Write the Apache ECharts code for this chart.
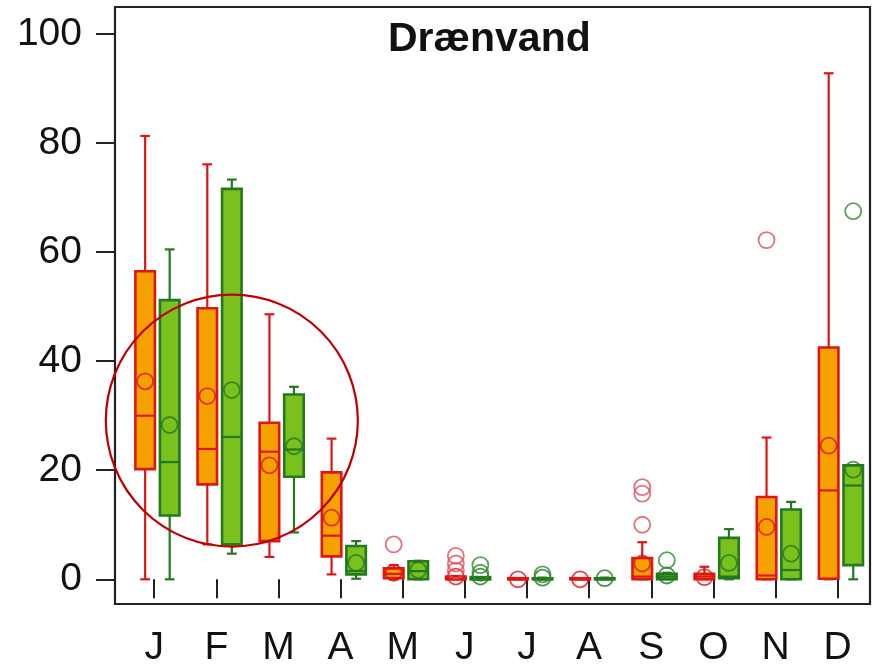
<!DOCTYPE html>
<html lang="da">
<head>
    <meta charset="utf-8" />
    <title>Drænvand</title>
    <script src="https://cdn.jsdelivr.net/npm/echarts@6/dist/echarts.min.js"></script>
</head>
<body style="margin:0;background:#fff;">
<div id="main" style="width: 872px;height:668px;"></div>
<script type="text/javascript">
    // måneder
    var months = ['J', 'F', 'M', 'A', 'M', 'J', 'J', 'A', 'S', 'O', 'N', 'D'];
    var yTicks = [0, 20, 40, 60, 80, 100];

    // [min, q1, median, q3, max] pr. måned
    var orangeBox = [
        [0, 20.2, 30.0, 56.5, 81.3],
        [6.4, 17.4, 23.9, 49.7, 76.1],
        [4.1, 7.0, 23.4, 28.7, 48.6],
        [0.9, 4.2, 8.0, 19.6, 25.8],
        [0, 0.2, 1.0, 2.0, 2.6],
        [0, 0, 0, 0.5, 0.6],
        [0, 0, 0, 0.2, 0.2],
        [0, 0, 0, 0.2, 0.2],
        [0, 0, 0.5, 3.9, 6.8],
        [0, 0, 0.5, 1.0, 2.3],
        [0, 0, 0.7, 15.1, 26.0],
        [0, 0.1, 16.3, 42.5, 92.8]
    ];
    var orangeMean = [36.3, 33.6, 20.9, 11.3, 1.2, 0.5, 0, 0, 2.9, 0.4, 9.6, 24.5];
    // [månedsnummer, værdi]
    var orangeOutliers = [[5, 6.4], [6, 4.3], [6, 2.9], [6, 1.6], [9, 16.9], [9, 15.7], [9, 10.0], [11, 62.2]];

    var greenBox = [
        [0, 11.7, 21.5, 51.2, 60.5],
        [4.7, 6.4, 26.1, 71.6, 73.3],
        [8.6, 18.8, 23.8, 33.9, 35.3],
        [0.1, 0.9, 1.5, 6.1, 7.0],
        [0, 0, 1.5, 3.3, 3.4],
        [0, 0, 0, 0.4, 0.4],
        [0, 0, 0, 0.2, 0.3],
        [0, 0, 0, 0.2, 0.3],
        [0, 0, 0.5, 1.0, 1.2],
        [0, 0.2, 0.5, 7.6, 9.2],
        [0, 0, 1.7, 12.8, 14.2],
        [0, 2.6, 17.2, 20.9, 20.9]
    ];
    var greenMean = [28.3, 34.7, 24.4, 3.0, 1.7, 0.5, 0.3, 0.2, 0.7, 3.0, 4.7, 20.1];
    var greenOutliers = [[6, 2.6], [6, 1.2], [7, 0.9], [9, 3.5], [12, 67.5]];

    // markering (rød cirkel)
    var ringCenter = [2.25, 29.1];
    var ringRadius = 126;

    var orangeFill = '#f5a100', orangeLine = '#e01515', orangeOut = '#e0505a';
    var greenFill = '#7ac11e', greenLine = '#23791e', greenOut = '#2f8a2f';
    var offA = -0.145, offB = 0.25, boxW = 0.314;

    var myChart = echarts.init(document.getElementById('main'));

    function boxData(box, off) {
        return box.map(function (b, i) { return [i + 1 + off].concat(b); });
    }

    function renderBox(fill, stroke) {
        return function (params, api) {
            var x = api.value(0);
            var p = [1, 2, 3, 4, 5].map(function (d) { return api.coord([x, api.value(d)]); });
            var w = api.size([boxW, 0])[0];
            var cx = p[0][0];
            var cap = w / 2;
            var ls = { stroke: stroke, lineWidth: 2.2 };
            return {
                type: 'group',
                children: [
                    { type: 'line', shape: { x1: cx, y1: p[0][1], x2: cx, y2: p[1][1] }, style: ls },
                    { type: 'line', shape: { x1: cx, y1: p[3][1], x2: cx, y2: p[4][1] }, style: ls },
                    { type: 'line', shape: { x1: cx - cap / 2, y1: p[0][1], x2: cx + cap / 2, y2: p[0][1] }, style: ls },
                    { type: 'line', shape: { x1: cx - cap / 2, y1: p[4][1], x2: cx + cap / 2, y2: p[4][1] }, style: ls },
                    { type: 'rect', shape: { x: cx - w / 2, y: p[3][1], width: w, height: p[1][1] - p[3][1] },
                      style: { fill: fill, stroke: stroke, lineWidth: 2.6 } },
                    { type: 'line', shape: { x1: cx - w / 2, y1: p[2][1], x2: cx + w / 2, y2: p[2][1] }, style: ls }
                ]
            };
        };
    }

    function meanData(mean, off) {
        return mean.map(function (v, i) { return [i + 1 + off, v]; });
    }
    function outData(list, off) {
        return list.map(function (o) { return [o[0] + off, o[1]]; });
    }

    var option = {
        animation: false,
        title: {
            text: 'Drænvand',
            left: 383,
            top: 14,
            textStyle: { fontFamily: 'Liberation Sans', fontSize: 41, fontWeight: 'bold', color: '#111' }
        },
        grid: {
            left: 115, right: 2, top: 7, bottom: 64,
            show: true, borderColor: '#222', borderWidth: 2.2,
            outerBoundsMode: 'none'
        },
        xAxis: {
            type: 'value',
            min: 0.37,
            max: 12.52,
            axisLine: { show: false },
            splitLine: { show: false },
            axisTick: {
                show: true, length: 19, lineStyle: { color: '#222', width: 2 },
                customValues: months.map(function (m, i) { return i + 1; })
            },
            axisLabel: {
                margin: 25,
                fontFamily: 'Liberation Sans', fontSize: 39, color: '#111',
                customValues: months.map(function (m, i) { return i + 1; }),
                formatter: function (v) { return months[Math.round(v) - 1]; }
            }
        },
        yAxis: {
            type: 'value',
            min: -4.53,
            max: 104.95,
            axisLine: { show: false },
            splitLine: { show: false },
            axisTick: {
                show: true, length: 19, lineStyle: { color: '#222', width: 2 },
                customValues: yTicks
            },
            axisLabel: {
                margin: 33,
                fontFamily: 'Liberation Sans', fontSize: 39, color: '#111',
                customValues: yTicks
            }
        },
        series: [
            {
                type: 'custom', name: 'orange', renderItem: renderBox(orangeFill, orangeLine),
                data: boxData(orangeBox, offA), encode: { x: 0, y: [1, 2, 3, 4, 5] }, z: 2
            },
            {
                type: 'custom', name: 'green', renderItem: renderBox(greenFill, greenLine),
                data: boxData(greenBox, offB), encode: { x: 0, y: [1, 2, 3, 4, 5] }, z: 2
            },
            {
                type: 'scatter', symbol: 'circle', symbolSize: 16, z: 3,
                itemStyle: { color: 'rgba(0,0,0,0)', borderColor: orangeLine, borderWidth: 1.8 },
                data: meanData(orangeMean, offA)
            },
            {
                type: 'scatter', symbol: 'circle', symbolSize: 16, z: 3,
                itemStyle: { color: 'rgba(0,0,0,0)', borderColor: greenLine, borderWidth: 1.8 },
                data: meanData(greenMean, offB)
            },
            {
                type: 'scatter', symbol: 'circle', symbolSize: 16, z: 3,
                itemStyle: { color: 'rgba(0,0,0,0)', borderColor: orangeOut, borderWidth: 1.8 },
                data: outData(orangeOutliers, offA)
            },
            {
                type: 'scatter', symbol: 'circle', symbolSize: 16, z: 3,
                itemStyle: { color: 'rgba(0,0,0,0)', borderColor: greenOut, borderWidth: 1.8 },
                data: outData(greenOutliers, offB)
            }
        ]
    };
    myChart.setOption(option);

    var c = myChart.convertToPixel({ gridIndex: 0 }, ringCenter);
    myChart.setOption({
        graphic: [{
            type: 'circle', z: 100,
            shape: { cx: c[0], cy: c[1], r: ringRadius },
            style: { fill: 'none', stroke: '#c00000', lineWidth: 2.2 }
        }]
    });
</script>
</body>
</html>
